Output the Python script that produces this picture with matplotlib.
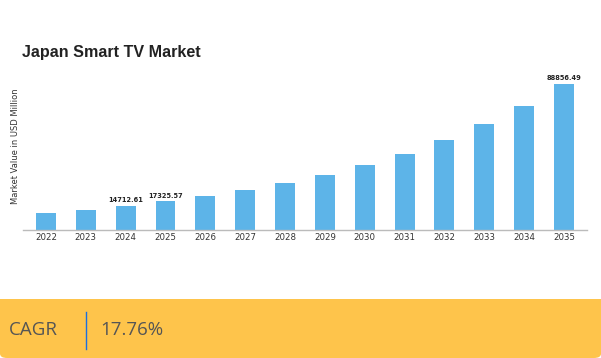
import matplotlib
matplotlib.use("Agg")
import matplotlib.pyplot as plt
from matplotlib.patches import FancyBboxPatch, Rectangle
from matplotlib.lines import Line2D

years = ["2022", "2023", "2024", "2025", "2026", "2027", "2028",
         "2029", "2030", "2031", "2032", "2033", "2034", "2035"]
values = [10600, 12400, 14712.61, 17325.57, 20400, 24000, 28300,
          33300, 39200, 46200, 54400, 64100, 75500, 88856.49]
labelled = {"2024": "14712.61", "2025": "17325.57", "2035": "88856.49"}
cagr = "17.76%"

W, H = 601, 358
fig = plt.figure(figsize=(W / 100, H / 100), dpi=100)

# chart area
ax = fig.add_axes([22.7 / W, 1 - 230 / H, (587 - 22.7) / W, (230 - 62) / H])
x = range(len(years))
ax.bar(x, values, width=0.5, color="#5db4e8", zorder=2)
ax.set_xlim(-0.585, 13.58)
ax.set_ylim(0, 102000)
ax.set_xticks(list(x))
ax.set_xticklabels(years, fontsize=6.2, color="#333333")
ax.tick_params(axis="x", length=0, pad=2)
ax.set_yticks([])
for s in ["top", "right", "left"]:
    ax.spines[s].set_visible(False)
ax.spines["bottom"].set_color("#bbbbbb")
ax.spines["bottom"].set_linewidth(1)

for i, (yr, v) in enumerate(zip(years, values)):
    if yr in labelled:
        ax.annotate(labelled[yr], (i, v), xytext=(0, 2), textcoords="offset points",
                    ha="center", va="bottom", fontsize=4.8, fontweight="bold",
                    color="#222222")

fig.text(22.5 / W, 1 - 52 / H, "Japan Smart TV Market", fontsize=11.6,
         fontweight="bold", family="Liberation Sans", color="#222222",
         ha="left", va="center")
fig.text(16 / W, 1 - 146 / H, "Market Value in USD Million", fontsize=6,
         rotation=90, ha="center", va="center", color="#333333")

# CAGR band
band = FancyBboxPatch((0, 0), 1, (H - 299) / H, boxstyle="round,pad=0,rounding_size=0.012",
                      transform=fig.transFigure, facecolor="#fec44b", edgecolor="none")
fig.patches.append(band)
fig.patches.append(Rectangle((0, 0.08), 1, (H - 299) / H - 0.08,
                   transform=fig.transFigure, facecolor="#fec44b", edgecolor="none"))
fig.text(9 / W, 1 - 330 / H, "CAGR", fontsize=13.5, family="Open Sans",
         color="#555555", ha="left", va="center")
fig.add_artist(Line2D([86 / W, 86 / W], [1 - 312 / H, 1 - 349 / H],
                      transform=fig.transFigure, color="#1a6fe0", linewidth=1))
fig.text(100 / W, 1 - 330 / H, cagr, fontsize=13.5, family="Open Sans",
         color="#555555", ha="left", va="center")

fig.savefig("out.png", dpi=100)
